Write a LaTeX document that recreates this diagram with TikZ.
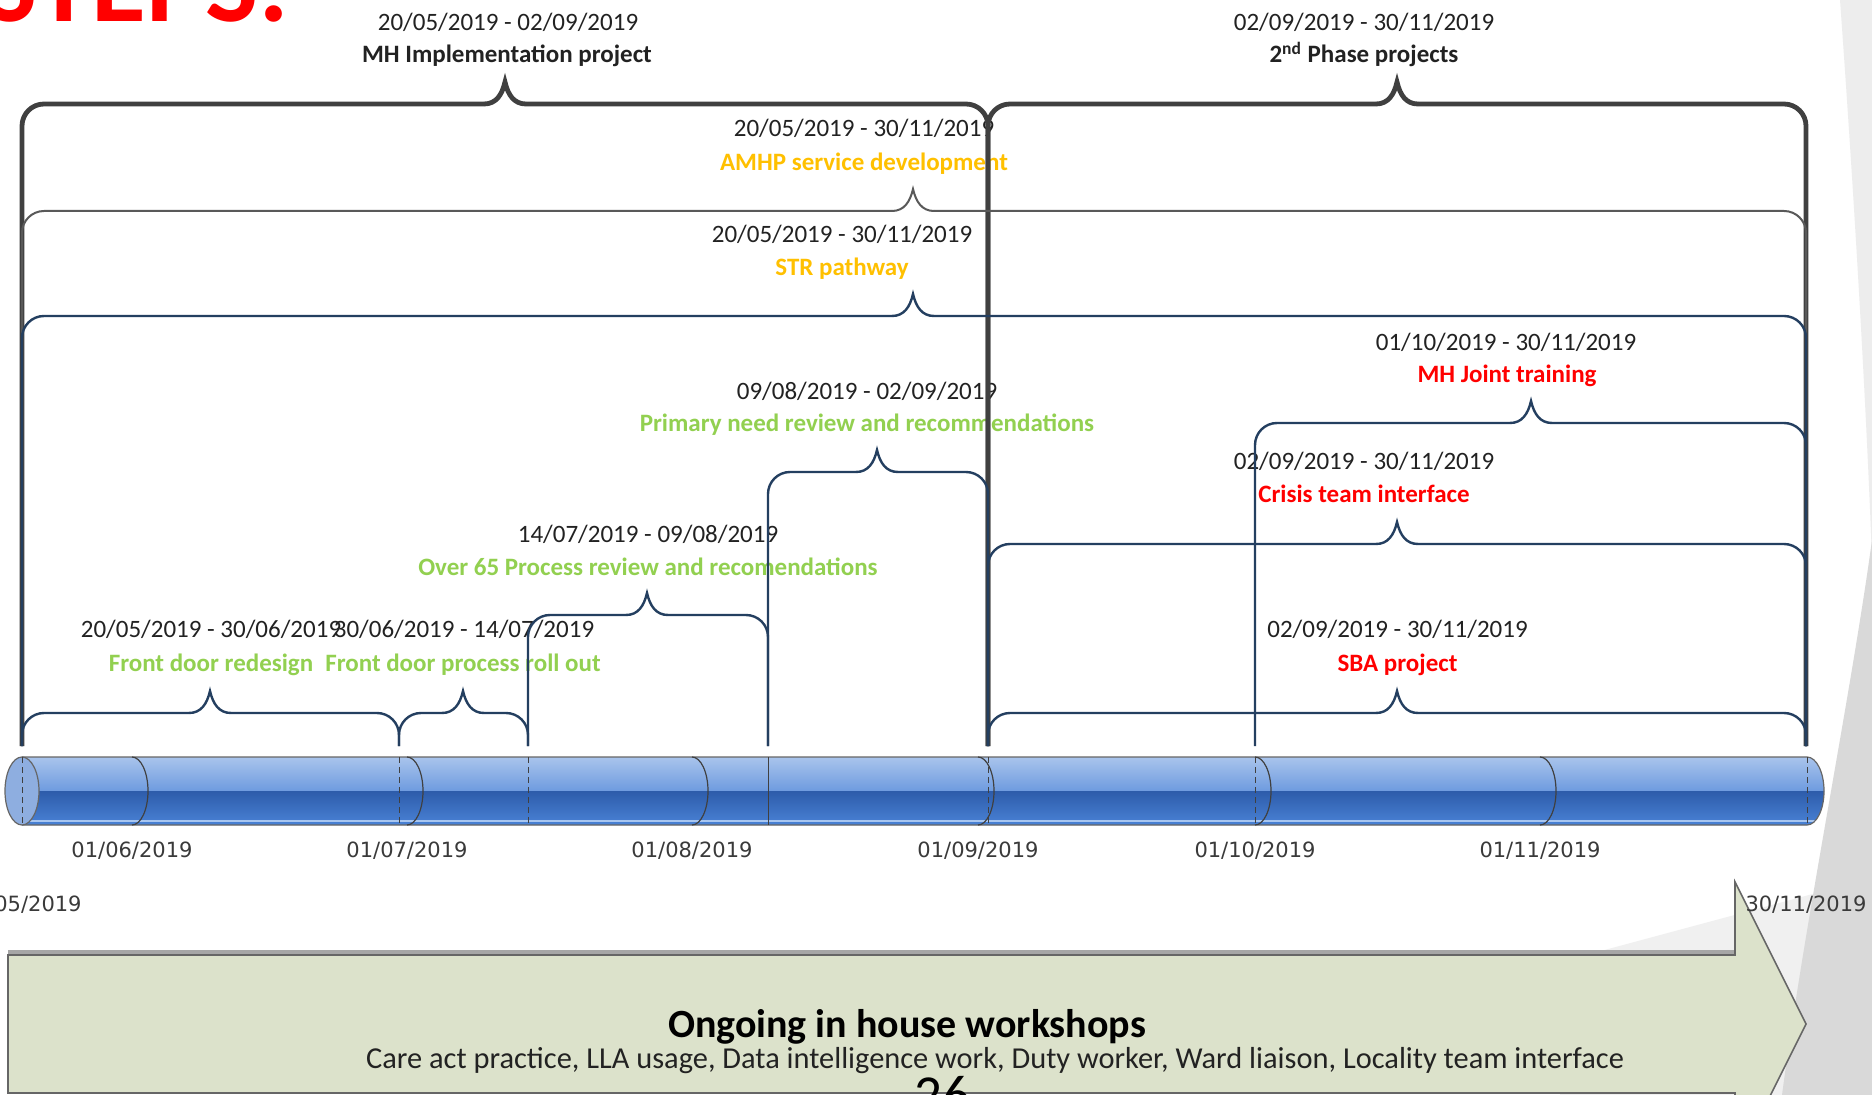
\documentclass[tikz,border=0pt]{standalone}
\usepackage{fontspec}
\setmainfont{Carlito}
\newfontfamily\axisfont{DejaVu Sans}
\definecolor{navy}{HTML}{243F60}
\definecolor{thickgray}{HTML}{404040}
\definecolor{thingray}{HTML}{595959}
\definecolor{datecol}{HTML}{222222}
\definecolor{orangecol}{HTML}{FFC000}
\definecolor{greencol}{HTML}{92D050}
\definecolor{redcol}{HTML}{FF0000}
\definecolor{cyltop}{HTML}{A9C4EC}
\definecolor{cylmid}{HTML}{6E9BDF}
\definecolor{cyldark}{HTML}{2D5CAA}
\definecolor{cylbot}{HTML}{4A82D6}
\definecolor{cylhl}{HTML}{A8C6F0}
\definecolor{cylend}{HTML}{8EAEE0}
\definecolor{arrowfill}{HTML}{DCE2CB}
\definecolor{axiscol}{HTML}{3A3A3A}
\newcommand\tlbrace[5]{%
  \draw[#1, rounded corners=11pt] (#2,746) |- ({#4-21},#5);
  \draw[#1] ({#4-21},#5) .. controls ({#4-9},#5) and ({#4-3},{#5-9}) .. (#4,{#5-22})
    .. controls ({#4+3},{#5-9}) and ({#4+9},#5) .. ({#4+21},#5);
  \draw[#1, rounded corners=11pt] ({#4+21},#5) -| (#3,746);}
\begin{document}
\begin{tikzpicture}[x=0.5pt,y=-0.5pt,
  datelbl/.style={font=\fontsize{12.5}{15}\selectfont, text=datecol, inner sep=0pt, anchor=base},
  namelbl/.style={font=\fontsize{12.5}{15}\selectfont\bfseries, inner sep=0pt, anchor=base},
  axislbl/.style={font=\axisfont\fontsize{10.5}{12}\selectfont, text=axiscol, inner sep=0pt, anchor=base},
  bigbrace/.style={draw=thickgray, line width=2.4pt},
  graybrace/.style={draw=thingray, line width=1pt},
  navybrace/.style={draw=navy, line width=1.2pt},
  cylline/.style={draw=black!60, line width=0.6pt},
  tickdash/.style={draw=black!75, line width=0.5pt, dash pattern=on 3pt off 2pt},
  arrowshape/.style={fill=arrowfill, draw=black!60, line width=0.8pt}
]
\useasboundingbox (0,0) rectangle (1872,1095);
\begin{scope}
\clip (0,0) rectangle (1872,1095);
% background decoration
\fill[white] (0,0) rectangle (1872,1095);
\fill[black!7] (1840,0) .. controls (1858,250) and (1868,450) .. (1872,560) -- (1872,0) -- cycle;
\fill[black!6] (1560,962) -- (1872,878) -- (1872,1095) -- (1560,1095) -- cycle;
\fill[black!15] (1872,540) .. controls (1850,700) and (1805,920) .. (1782,1095) -- (1872,1095) -- cycle;

% title (cut at top)
\node[font=\fontsize{56}{60}\selectfont\bfseries, text=redcol, inner sep=0pt, anchor=base east] (title) at (290,22) {STEPS:};

% labels
\node[datelbl] (dmh) at (508,30.7) {20/05/2019 - 02/09/2019};
\node[namelbl, text=datecol] (nmh) at (507,63) {MH Implementation project};
\node[datelbl] (dsec) at (1364,30.7) {02/09/2019 - 30/11/2019};
\node[namelbl, text=datecol] (nsec) at (1364,63) {2\textsuperscript{nd} Phase projects};
\node[datelbl] (damhp) at (864,137) {20/05/2019 - 30/11/2019};
\node[namelbl, text=orangecol] (namhp) at (864,170.4) {AMHP service development};
\node[datelbl] (dstr) at (842,243) {20/05/2019 - 30/11/2019};
\node[namelbl, text=orangecol] (nstr) at (842,275.4) {STR pathway};
\node[datelbl] (dprim) at (867,399.6) {09/08/2019 - 02/09/2019};
\node[namelbl, text=greencol] (nprim) at (867,431.8) {Primary need review and recommendations};
\node[datelbl] (dover) at (648,543) {14/07/2019 - 09/08/2019};
\node[namelbl, text=greencol] (nover) at (648,575) {Over 65 Process review and recomendations};
\node[datelbl] (dfdr) at (211,638) {20/05/2019 - 30/06/2019};
\node[namelbl, text=greencol] (nfdr) at (211,671.8) {Front door redesign};
\node[datelbl] (dfdp) at (464,638) {30/06/2019 - 14/07/2019};
\node[namelbl, text=greencol] (nfdp) at (463,671.8) {Front door process roll out};
\node[datelbl] (dmhj) at (1506,350.6) {01/10/2019 - 30/11/2019};
\node[namelbl, text=redcol] (nmhj) at (1507,383) {MH Joint training};
\node[datelbl] (dcri) at (1364,470) {02/09/2019 - 30/11/2019};
\node[namelbl, text=redcol] (ncri) at (1364,502.3) {Crisis team interface};
\node[datelbl] (dsba) at (1397.5,638) {02/09/2019 - 30/11/2019};
\node[namelbl, text=redcol] (nsba) at (1397.5,671.8) {SBA project};

% braces
\tlbrace{bigbrace}{22}{988}{505}{104}
\tlbrace{bigbrace}{988}{1806}{1397}{104}
\tlbrace{graybrace}{22}{1806}{913}{211}
\tlbrace{navybrace}{22}{1806}{913}{316}
\tlbrace{navybrace}{1255}{1806}{1531}{423}
\tlbrace{navybrace}{768}{988}{877}{472}
\tlbrace{navybrace}{988}{1806}{1397}{544}
\tlbrace{navybrace}{528}{768}{647}{615}
\tlbrace{navybrace}{22}{399}{210}{713}
\tlbrace{navybrace}{399}{528}{463}{713}
\tlbrace{navybrace}{988}{1806}{1397}{713}

% cylinder timeline
\begin{scope}
\clip (22,757) -- (1807,757) arc[start angle=-90, end angle=90, x radius=17, y radius=34] -- (22,825) -- cycle;
\shade[top color=cyltop, bottom color=cylmid] (0,757) rectangle (1872,791);
\shade[top color=cyldark, bottom color=cylbot] (0,791) rectangle (1872,825);
\draw[cylhl, line width=1pt] (0,821) -- (1872,821);
\end{scope}
\draw[cylline] (22,757) -- (1807,757) arc[start angle=-90, end angle=90, x radius=17, y radius=34] -- (22,825);
\filldraw[fill=cylend, cylline] (22,791) ellipse[x radius=17, y radius=34];
\foreach \mx in {132,407,692,978,1255,1540}{
  \draw[draw=black!75, line width=0.6pt] (\mx,757) arc[start angle=-90, end angle=90, x radius=16, y radius=34];
}
\foreach \dx in {22,399,528,988,1255,1807}{
  \draw[tickdash] (\dx,757) -- (\dx,825);
}
\draw[draw=black!75, line width=0.5pt] (768,757) -- (768,825);

% axis labels
\node[axislbl] (m6) at (132,857.5) {01/06/2019};
\node[axislbl] (m7) at (407,857.5) {01/07/2019};
\node[axislbl] (m8) at (692,857.5) {01/08/2019};
\node[axislbl] (m9) at (978,857.5) {01/09/2019};
\node[axislbl] (m10) at (1255,857.5) {01/10/2019};
\node[axislbl] (m11) at (1540,857.5) {01/11/2019};
\node[axislbl, anchor=base east] (start) at (82,911.5) {05/2019};

% workshop arrow
\draw[black!35, line width=2pt] (8,952) -- (1735,952);
\path[arrowshape] (8,955) -- (1735,955) -- (1735,882) -- (1806,1024) -- (1735,1166) -- (1735,1093) -- (8,1093) -- cycle;
\node[axislbl] (endd) at (1806,911.5) {30/11/2019};
\node[font=\fontsize{20}{24}\selectfont\bfseries, text=black, inner sep=0pt, anchor=base] (wtitle) at (907,1037) {Ongoing in house workshops};
\node[font=\fontsize{15.2}{18}\selectfont, text=datecol, inner sep=0pt, anchor=base] (wtext) at (995,1068) {Care act practice, LLA usage, Data intelligence work, Duty worker, Ward liaison, Locality team interface};
\node[font=\fontsize{27.5}{30}\selectfont, text=black, inner sep=0pt, anchor=base] (pnum) at (942,1113) {26};
\end{scope}
\end{tikzpicture}
\end{document}
